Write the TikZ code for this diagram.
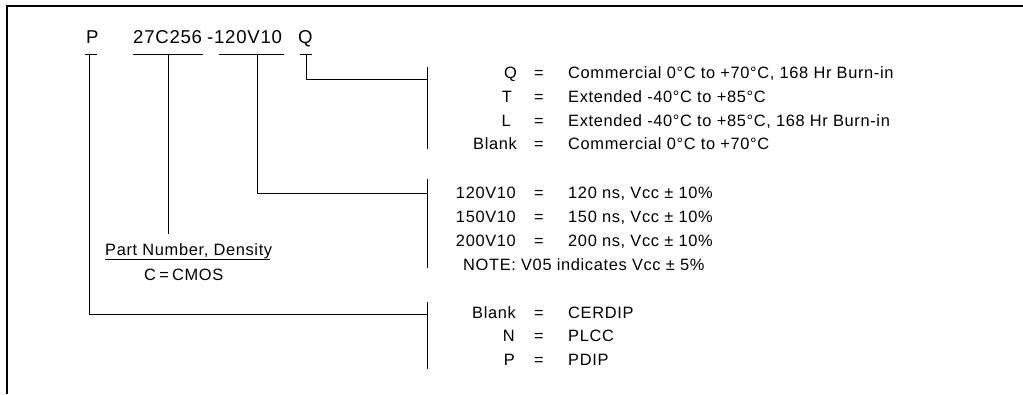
\documentclass[tikz,border=0pt]{standalone}
\usepackage{fontspec}
\setmainfont{Liberation Sans}[LetterSpace=4]
\begin{document}
\begin{tikzpicture}[x=1pt,y=-1pt,
  lbl/.style={inner sep=0pt, font=\fontsize{16.4}{19}\selectfont},
  big/.style={inner sep=0pt, font=\fontsize{18.6}{21}\selectfont, anchor=base west},
  key/.style={lbl, anchor=base east},
  eqs/.style={lbl, anchor=base},
  desc/.style={lbl, anchor=base west},
  conn/.style={line width=0.9pt},
  brk/.style={line width=0.9pt},
  frame/.style={line width=1.3pt}]
\useasboundingbox (0,0) rectangle (1023,394);
\draw[frame] (7,394) -- (7,6) -- (1023,6);
% top part number
\node[big] (tP) at (86,43) {P};
\node[big] (tnum) at (133,43) {27C256};
\node[big] (tspd) at (207,43) {-120V10};
\node[big] (tQ) at (298,43) {Q};
\coordinate (uP) at (89,54);
\coordinate (unum) at (168,54);
\coordinate (uspd) at (257,54);
\coordinate (uQ) at (306,54);
\draw[conn] (85,54) -- (97,54);
\draw[conn] (133,54) -- (203,54);
\draw[conn] (219,54) -- (284,54);
\draw[conn] (300,54) -- (312,54);
% brackets
\coordinate (b1) at (427,79);
\coordinate (b2) at (427,193);
\coordinate (b3) at (427,314);
\draw[brk] (427,67) -- (427,149);
\draw[brk] (427,179) -- (427,268);
\draw[brk] (427,302) -- (427,369);
% connectors
\draw[conn] (uQ) |- (b1);
\draw[conn] (uspd) |- (b2);
\draw[conn] (uP) |- (b3);
\coordinate (dnum) at (168,234);
\draw[conn] (unum) -- (dnum);
% part number label
\node[desc, anchor=base west] (pn) at (105,255) {Part Number, Density};
\draw[line width=0.8pt] (105,259) -- (270,259);
\node[desc, anchor=base west] (cm) at (144,280) {C\hspace{0.2em}=\hspace{0.2em}CMOS};
% section 1
\node[key] (k1) at (517,78) {Q};
\node[key] (k2) at (512,102) {T};
\node[key] (k3) at (511,126) {L};
\node[key] (k4) at (517,149) {Blank};
\foreach \y in {78,102,126,149} \node[eqs] at (539,\y) {=};
\node[desc] (d1) at (568,78) {Commercial 0°C to +70°C, 168 Hr Burn-in};
\node[desc] (d2) at (568,102) {Extended -40°C to +85°C};
\node[desc] (d3) at (568,126) {Extended -40°C to +85°C, 168 Hr Burn-in};
\node[desc] (d4) at (568,149) {Commercial 0°C to +70°C};
% section 2
\node[key] (s1) at (516,198) {120V10};
\node[key] (s2) at (516,222) {150V10};
\node[key] (s3) at (516,246) {200V10};
\foreach \y in {198,222,246} \node[eqs] at (539,\y) {=};
\node[desc] (e1) at (568,198) {120 ns, Vcc ± 10\%};
\node[desc] (e2) at (568,222) {150 ns, Vcc ± 10\%};
\node[desc] (e3) at (568,246) {200 ns, Vcc ± 10\%};
\node[desc] (note) at (463,270) {NOTE:\ V05 indicates Vcc ± 5\%};
% section 3
\node[key] (p1) at (516,318) {Blank};
\node[key] (p2) at (515,341) {N};
\node[key] (p3) at (515,365) {P};
\foreach \y in {318,341,365} \node[eqs] at (539,\y) {=};
\node[desc] (f1) at (568,318) {CERDIP};
\node[desc] (f2) at (568,341) {PLCC};
\node[desc] (f3) at (568,365) {PDIP};
\end{tikzpicture}
\end{document}
